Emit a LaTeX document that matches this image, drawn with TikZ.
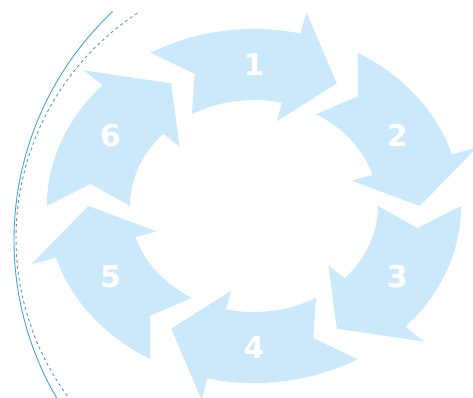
\documentclass[tikz,border=0pt]{standalone}
\usepackage{fontspec}
\setmainfont{DejaVu Sans}
\usepackage{tikz}

\definecolor{ringblue}{RGB}{204,233,251}
\definecolor{arcteal}{RGB}{70,165,190}
\definecolor{arcgrey}{RGB}{105,145,185}

\begin{document}
\begin{tikzpicture}[x=1pt, y=1pt,
  cyclearrow/.style={fill=ringblue},
  numlabel/.style={text=white, font=\fontsize{30}{30}\selectfont\bfseries}]
\fill[white] (0,0) rectangle (473,397);
\useasboundingbox (0,0) rectangle (473,397);

% guide arcs on the left
\draw[arcteal, line width=0.9pt] (328,157) ++(133.3:314) arc[start angle=133.3, end angle=211, radius=314];
\draw[arcgrey, line width=0.9pt, dash pattern=on 3pt off 3pt] (285,159) ++(123.3:269) arc[start angle=123.3, end angle=216, radius=269];

% ring of six arrows
\begin{scope}[shift={(254,191)}, xscale=1.17]
\foreach \a/\n in {120/1, 60/2, 0/3, -60/4, -120/5, -180/6} {
  \fill[cyclearrow] (\a:177) arc[start angle=\a, end angle={\a-43}, radius=177]
    -- ({\a-43}:199) -- ({\a-60}:141.5) -- ({\a-43}:87) -- ({\a-43}:106)
    arc[start angle={\a-43}, end angle=\a, radius=106] -- ({\a-9}:141.5) -- cycle;
  \node[numlabel] (num\n) at ({\a-30}:141.5) {\n};
}
\end{scope}
\end{tikzpicture}
\end{document}
